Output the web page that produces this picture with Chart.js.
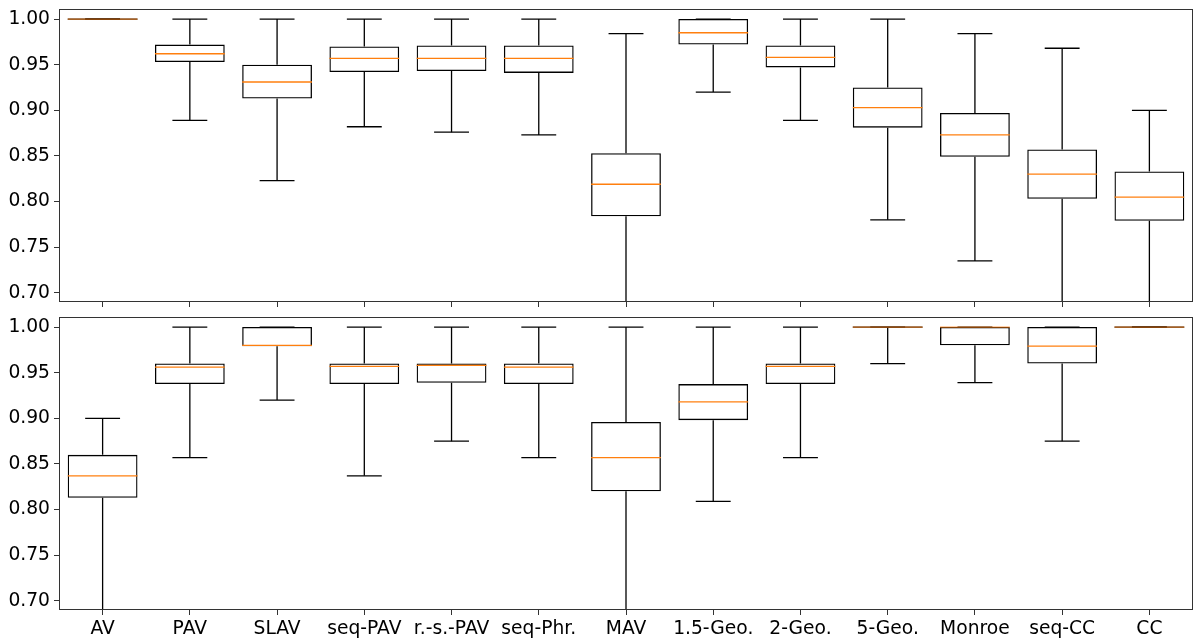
<!DOCTYPE html>
<html>
<head>
<meta charset="utf-8">
<script src="https://cdn.jsdelivr.net/npm/chart.js@4"></script>
<style>
  body { margin: 0; background: #fff; }
  #wrap { position: relative; width: 1195px; height: 639px; }
  canvas { position: absolute; left: 0; }
  #top { top: 0; }
  #bottom { top: 312px; }
</style>
</head>
<body>
<div id="wrap">
  <canvas id="top" width="1195" height="312"></canvas>
  <canvas id="bottom" width="1195" height="327"></canvas>
</div>
<script>
// categories + tick values
const categories = ["AV","PAV","SLAV","seq-PAV","r.-s.-PAV","seq-Phr.","MAV","1.5-Geo.","2-Geo.","5-Geo.","Monroe","seq-CC","CC"];
const yTicks = [0.70, 0.75, 0.80, 0.85, 0.90, 0.95, 1.00];

// upper panel (lower whiskers under 0.69 are guessed, they fall off the axis)
const topLo  = [1.000, 0.889, 0.823, 0.882, 0.876, 0.873, 0.600, 0.920, 0.889, 0.780, 0.735, 0.600, 0.600];
const topQ1  = [1.000, 0.953, 0.913, 0.942, 0.943, 0.941, 0.784, 0.972, 0.947, 0.881, 0.849, 0.803, 0.779];
const topMed = [1.000, 0.962, 0.931, 0.957, 0.957, 0.957, 0.819, 0.985, 0.958, 0.903, 0.873, 0.830, 0.805];
const topQ3  = [1.000, 0.972, 0.950, 0.970, 0.971, 0.971, 0.853, 1.000, 0.971, 0.925, 0.897, 0.857, 0.833];
const topHi  = [1.000, 1.000, 1.000, 1.000, 1.000, 1.000, 0.984, 1.000, 1.000, 1.000, 0.984, 0.968, 0.900];

// lower panel
const botLo  = [0.600, 0.857, 0.920, 0.837, 0.875, 0.857, 0.600, 0.809, 0.857, 0.960, 0.939, 0.875, 1.000];
const botQ1  = [0.813, 0.9375, 0.979, 0.9375, 0.939, 0.9375, 0.820, 0.898, 0.9375, 1.000, 0.980, 0.960, 1.000];
const botMed = [0.837, 0.956, 0.980, 0.957, 0.958, 0.956, 0.857, 0.918, 0.957, 1.000, 1.000, 0.979, 1.000];
const botQ3  = [0.860, 0.960, 1.000, 0.960, 0.960, 0.960, 0.896, 0.9375, 0.960, 1.000, 1.000, 1.000, 1.000];
const botHi  = [0.900, 1.000, 1.000, 1.000, 1.000, 1.000, 1.000, 1.000, 1.000, 1.000, 1.000, 1.000, 1.000];

const FONT = { family: "DejaVu Sans", size: 18.7 };
Chart.defaults.font.family = FONT.family;
Chart.defaults.color = "#000";

// whiskers, caps, medians and the frame, drawn from the scales
const boxPlugin = {
  id: "boxExtras",
  afterDatasetsDraw(chart) {
    const { ctx, chartArea: a, scales: { x, y } } = chart;
    const d = chart.config.options.plugins.boxExtras;
    const meta = chart.getDatasetMeta(0);
    ctx.save();
    ctx.beginPath();
    ctx.rect(a.left, a.top, a.right - a.left, a.bottom - a.top);
    ctx.clip();
    ctx.lineWidth = 1.3;
    const hline = (x0, x1, yy, col) => {
      ctx.strokeStyle = col;
      ctx.beginPath(); ctx.moveTo(x0, yy); ctx.lineTo(x1, yy); ctx.stroke();
    };
    d.med.forEach((m, i) => {
      const cx = x.getPixelForValue(i);
      const w = meta.data[i].width;
      const yq1 = y.getPixelForValue(d.q1[i]), yq3 = y.getPixelForValue(d.q3[i]);
      const ylo = y.getPixelForValue(d.lo[i]), yhi = y.getPixelForValue(d.hi[i]);
      ctx.strokeStyle = "#000";
      ctx.beginPath();
      ctx.moveTo(cx, yq3); ctx.lineTo(cx, yhi);
      ctx.moveTo(cx, yq1); ctx.lineTo(cx, ylo);
      ctx.stroke();
      hline(cx - w / 4, cx + w / 4, yhi, "#000");
      hline(cx - w / 4, cx + w / 4, ylo, "#000");
      if (d.q1[i] === d.q3[i]) hline(cx - w / 2, cx + w / 2, yq1, "#000");
      const ym = y.getPixelForValue(m);
      const onEdge = m === d.q1[i] || m === d.q3[i];
      ctx.globalAlpha = onEdge ? 0.7 : 1;
      hline(cx - w / 2, cx + w / 2, ym, "#ff7f0e");
      ctx.globalAlpha = 1;
    });
    ctx.restore();
    ctx.save();
    ctx.strokeStyle = "#333";
    ctx.lineWidth = 1;
    ctx.strokeRect(a.left + 0.5, a.top + 0.5, a.right - a.left - 1, a.bottom - a.top - 1);
    ctx.restore();
  }
};

function makeChart(id, lo, q1, med, q3, hi, showLabels, padTop, xHeight) {
  return new Chart(document.getElementById(id), {
    type: "bar",
    data: {
      labels: categories,
      datasets: [{
        data: q1.map((v, i) => [v, q3[i]]),
        backgroundColor: "rgba(0,0,0,0)",
        borderColor: "#000",
        borderWidth: 1.3,
        borderSkipped: false,
        barPercentage: 0.8,
        categoryPercentage: 1
      }]
    },
    options: {
      responsive: false,
      animation: false,
      events: [],
      layout: { padding: { left: 0, right: 2, top: padTop, bottom: 0 } },
      plugins: {
        legend: { display: false },
        tooltip: { enabled: false },
        boxExtras: { lo, q1, med, q3, hi }
      },
      scales: {
        x: {
          type: "category",
          offset: true,
          grid: { drawOnChartArea: false, offset: false, tickLength: 5, color: "#333" },
          border: { display: false },
          ticks: { display: showLabels, font: FONT, padding: 3, maxRotation: 0, autoSkip: false, color: "#000" },
          afterFit(s) { s.height = xHeight; s.paddingLeft = 0; s.paddingRight = 0; }
        },
        y: {
          min: 0.69,
          max: 1.011,
          grid: { drawOnChartArea: false, tickLength: 5, color: "#333" },
          border: { display: false },
          ticks: { font: FONT, padding: 4, color: "#000", callback: v => v.toFixed(2) },
          afterBuildTicks(s) { s.ticks = yTicks.map(v => ({ value: v })); },
          afterFit(s) { s.width = 59; s.paddingTop = 0; s.paddingBottom = 0; }
        }
      }
    },
    plugins: [boxPlugin]
  });
}

makeChart("top", topLo, topQ1, topMed, topQ3, topHi, false, 9, 10);
makeChart("bottom", botLo, botQ1, botMed, botQ3, botHi, true, 5, 29);
</script>
</body>
</html>
